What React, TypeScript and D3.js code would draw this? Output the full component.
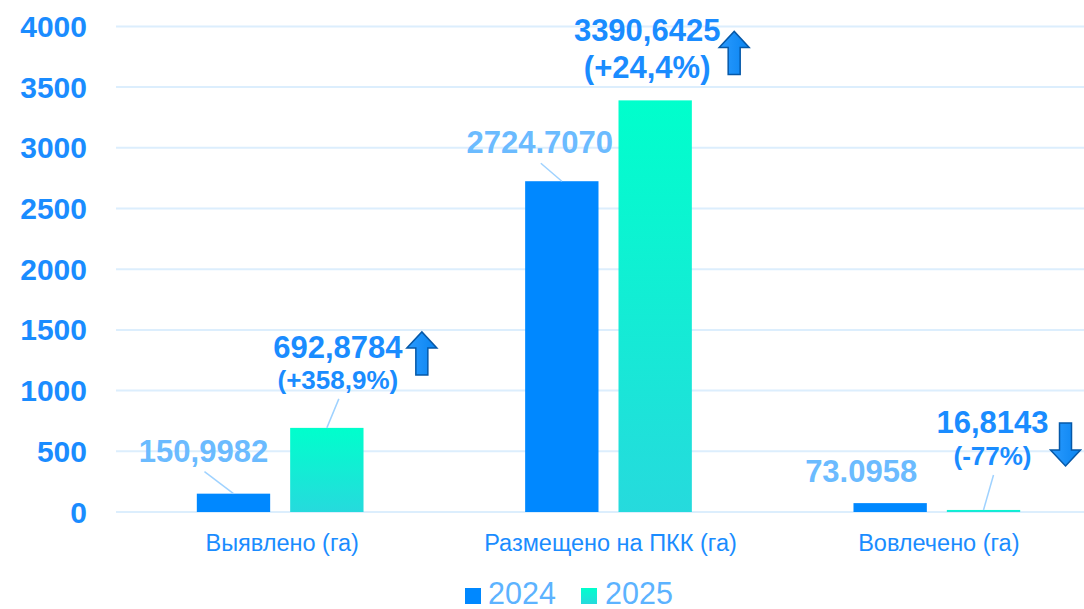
import React from "react"
import * as d3 from "d3"

const categories = ["Выявлено (га)", "Размещено на ПКК (га)", "Вовлечено (га)"]
const years = ["2024", "2025"]
const values2024 = [150.9982, 2724.707, 73.0958]
const values2025 = [692.8784, 3390.6425, 16.8143]
const labels2024 = ["150,9982", "2724.7070", "73.0958"]
const labels2025 = ["692,8784", "3390,6425", "16,8143"]
const changes2025 = ["(+358,9%)", "(+24,4%)", "(-77%)"]
const trend2025 = ["up", "up", "down"]
const yTicks = [0, 500, 1000, 1500, 2000, 2500, 3000, 3500, 4000]

// hand placed annotation offsets, relative to bar centre / bar top
const lbl2024 = [
    {dx: -30, dy: -32, leader: true},
    {dx: -22, dy: -28, leader: true},
    {dx: -29, dy: -21, leader: false},
]
const lbl2025 = [
    {dx: 11, dy: -70, dy2: -39, size2: 26, leader: true, ax: 95, ay: -96},
    {dx: -8, dy: -59, dy2: -22, size2: 31, leader: false, ax: 79, ay: -69},
    {dx: 9, dy: -77, dy2: -45, size2: 26, leader: true, ax: 82, ay: -87},
]

const W = 1084, H = 609
const FONT = "'Liberation Sans', Arial, sans-serif"

const arrowPath = (cx, top, dir) => {
    const w = 15, sh = 6, hh = 16, len = 43
    const b = top + len
    if (dir === "up") {
        return `M${cx},${top} L${cx + w},${top + hh} L${cx + sh},${top + hh} L${cx + sh},${b} L${cx - sh},${b} L${cx - sh},${top + hh} L${cx - w},${top + hh} Z`
    }
    return `M${cx},${b} L${cx + w},${b - hh} L${cx + sh},${b - hh} L${cx + sh},${top} L${cx - sh},${top} L${cx - sh},${b - hh} L${cx - w},${b - hh} Z`
}

const App = () => {
    const y = d3.scaleLinear().domain([0, 4000]).range([512, 26.4])
    const x0 = d3.scaleBand().domain(categories).range([116, 1101]).paddingInner(0).paddingOuter(0)
    const x1 = d3.scaleBand().domain(years).range([-83.35, 83.35]).paddingInner(0.2143)

    const cx = (cat, yr) => x0(cat) + x0.bandwidth() / 2 + x1(yr) + x1.bandwidth() / 2

    return (
        <svg width={W} height={H} style={{position: "absolute", left: 0, top: 0, background: "#fff"}} fontFamily={FONT}>
            <defs>
                <linearGradient id="teal" x1="0" y1="0" x2="0" y2="1">
                    <stop offset="0" stopColor="#00FFCC" />
                    <stop offset="1" stopColor="#26DADD" />
                </linearGradient>
                <linearGradient id="arrowFill" x1="0" y1="0" x2="1" y2="0">
                    <stop offset="0" stopColor="#2A9BFF" />
                    <stop offset="1" stopColor="#0A84F0" />
                </linearGradient>
            </defs>

            {/* grid */}
            <g>
                {yTicks.map(t => (
                    <line key={t} x1={116} x2={W} y1={y(t)} y2={y(t)} stroke="#DCEEFD" strokeWidth={2} />
                ))}
            </g>

            {/* y axis labels */}
            <g>
                {yTicks.map(t => (
                    <text key={t} x={87} y={y(t)} dy="0.35em" textAnchor="end" fontSize={30} fontWeight="bold" fill="#1A8CFF">
                        {t}
                    </text>
                ))}
            </g>

            {/* bars */}
            <g>
                {categories.map((c, i) => (
                    <g key={c}>
                        <rect x={cx(c, "2024") - x1.bandwidth() / 2} y={y(values2024[i])}
                              width={x1.bandwidth()} height={y(0) - y(values2024[i])} fill="#0088FF" />
                        <rect x={cx(c, "2025") - x1.bandwidth() / 2} y={y(values2025[i])}
                              width={x1.bandwidth()} height={y(0) - y(values2025[i])} fill="url(#teal)" />
                    </g>
                ))}
            </g>

            {/* category labels */}
            <g>
                {categories.map(c => (
                    <text key={c} x={x0(c) + x0.bandwidth() / 2 + 2} y={551} textAnchor="middle" fontSize={23.5} fill="#1A8CFF">
                        {c}
                    </text>
                ))}
            </g>

            {/* 2024 labels */}
            <g>
                {categories.map((c, i) => {
                    const bx = cx(c, "2024"), by = y(values2024[i]), o = lbl2024[i]
                    return (
                        <g key={c}>
                            {o.leader && (
                                <line x1={bx + o.dx + 1} y1={by + o.dy + 10} x2={bx} y2={by} stroke="#9FD2FF" strokeWidth={1.5} />
                            )}
                            <text x={bx + o.dx} y={by + o.dy} textAnchor="middle" fontSize={31} fontWeight="bold" fill="#6BBBFF">
                                {labels2024[i]}
                            </text>
                        </g>
                    )
                })}
            </g>

            {/* 2025 labels */}
            <g>
                {categories.map((c, i) => {
                    const bx = cx(c, "2025"), by = y(values2025[i]), o = lbl2025[i]
                    return (
                        <g key={c}>
                            {o.leader && (
                                <line x1={bx + o.dx + 1} y1={by + o.dy2 + 10} x2={bx} y2={by} stroke="#9FD2FF" strokeWidth={1.5} />
                            )}
                            <text x={bx + o.dx} y={by + o.dy} textAnchor="middle" fontSize={31} fontWeight="bold" fill="#1A8CFF">
                                {labels2025[i]}
                            </text>
                            <text x={bx + o.dx} y={by + o.dy2} textAnchor="middle" fontSize={o.size2} fontWeight="bold" fill="#1A8CFF">
                                {changes2025[i]}
                            </text>
                            <path d={arrowPath(bx + o.ax, by + o.ay, trend2025[i])} fill="url(#arrowFill)" stroke="#0558A8" strokeWidth={1.5} />
                        </g>
                    )
                })}
            </g>

            {/* legend */}
            <g>
                <rect x={465} y={588} width={16} height={16} fill="#0088FF" />
                <text x={488} y={604} fontSize={30.5} fill="#5CB3FF">2024</text>
                <rect x={581} y={588} width={16} height={16} fill="url(#teal)" />
                <text x={605} y={604} fontSize={30.5} fill="#5CB3FF">2025</text>
            </g>
        </svg>
    )
}

export default App
